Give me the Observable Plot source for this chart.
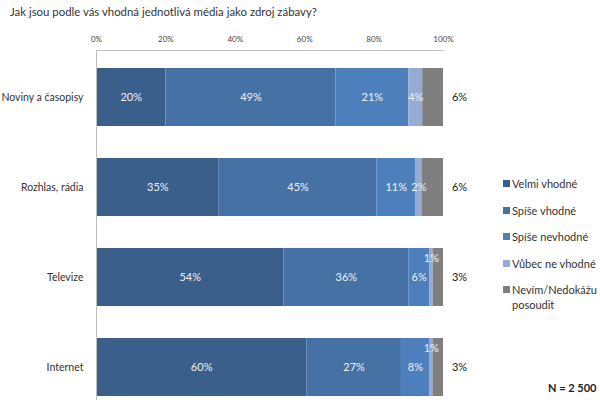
<!DOCTYPE html>
<html>
<head>
<meta charset="utf-8">
<script src="https://cdn.jsdelivr.net/npm/d3@7"></script>
<script src="https://cdn.jsdelivr.net/npm/@observablehq/plot@0.6"></script>
<style>
  body { margin: 0; background: #fff; font-family: Lato, sans-serif; }
  #wrap { position: relative; width: 600px; height: 400px; overflow: hidden; }
  #title { position: absolute; left: 10px; top: 5px; font-size: 11.4px; color: #333; white-space: nowrap; }
  #legend { position: absolute; left: 503px; top: 176px; font-size: 11px; color: #333; }
  .item { position: absolute; left: 0; white-space: nowrap; line-height: 15px; }
  .sw { position: absolute; left: 0; top: 4px; width: 7px; height: 7px; }
  .lab { position: absolute; left: 9px; top: 0; }
  #n { position: absolute; left: 548px; top: 381px; font-size: 11px; font-weight: bold; color: #222; white-space: nowrap; }
  #chart { position: absolute; left: 0; top: 0; }
</style>
</head>
<body>
<div id="wrap">
  <div id="chart"></div>
  <div id="title">Jak jsou podle vás vhodná jednotlivá média jako zdroj zábavy?</div>
  <div id="legend"></div>
  <div id="n">N = 2 500</div>
</div>
<script>
const categories = ["Noviny a časopisy", "Rozhlas, rádia", "Televize", "Internet"];
const series = ["Velmi vhodné", "Spíše vhodné", "Spíše nevhodné", "Vůbec ne vhodné", "Nevím/Nedokážu posoudit"];
const velmiVhodne = [20, 35, 54, 60];
const spiseVhodne = [49, 45, 36, 27];
const spiseNevhodne = [21, 11, 6, 8];
const vubecNeVhodne = [4, 2, 1, 1];
const nevim = [6, 6, 3, 3];
const colors = ["#3a5f8b", "#4671a5", "#4d7fbc", "#95abd3", "#7f7f7f"];
const xTicks = [0, 0.2, 0.4, 0.6, 0.8, 1];

const seriesValues = [velmiVhodne, spiseVhodne, spiseNevhodne, vubecNeVhodne, nevim];
const rows = [];
categories.forEach((c, i) => {
  series.forEach((s, j) => rows.push({media: c, answer: s, value: seriesValues[j][i]}));
});
const gray = series[4];
const grayRows = categories.map((c, i) => ({media: c, value: nevim[i]}));

const stackOpts = {x: "value", y: "media", z: "answer", order: series, offset: "normalize"};

const chart = Plot.plot({
  width: 600,
  height: 400,
  marginTop: 50,
  marginLeft: 96,
  marginRight: 157,
  marginBottom: 0,
  style: {fontFamily: "Lato, sans-serif", fontSize: "11px", background: "transparent"},
  x: {domain: [0, 1], axis: null},
  y: {domain: categories, range: [50.5, 412.5], paddingInner: 0.36, paddingOuter: 0.18, axis: null},
  color: {domain: series, range: colors},
  marks: [
    Plot.barX(rows, Plot.stackX({...stackOpts, fill: "answer"})),
    Plot.text(rows, Plot.stackX({...stackOpts,
      text: d => (d.answer !== gray && d.value !== 1) ? d.value + "%" : "",
      fill: "#eef2f8", fontSize: 11})),
    Plot.text(rows, Plot.stackX({...stackOpts,
      text: d => (d.answer !== gray && d.value === 1) ? d.value + "%" : "",
      fill: "#eef2f8", fontSize: 11, dy: -19})),
    Plot.text(grayRows, {x: () => 1, y: "media", text: d => d.value + "%", dx: 16, fill: "#222", fontSize: 11}),
    Plot.frame({anchor: "top", stroke: "#bfbfbf"}),
    Plot.ruleX([0], {stroke: "#bfbfbf"}),
    Plot.axisX({anchor: "top", ticks: xTicks, tickFormat: d3.format(".0%"), tickSize: 0, tickPadding: 9, fontSize: 8, fill: "#444", label: null}),
    Plot.axisY({anchor: "left", tickSize: 0, tickPadding: 13, fontSize: 10.5, fill: "#333", label: null})
  ]
});
document.getElementById("chart").appendChild(chart);

const legend = document.getElementById("legend");
const legendTops = [0, 27, 53, 80, 106];
series.forEach((s, j) => {
  const item = document.createElement("div");
  item.className = "item";
  item.style.top = legendTops[j] + "px";
  const sw = document.createElement("div");
  sw.className = "sw";
  sw.style.background = colors[j];
  const lab = document.createElement("div");
  lab.className = "lab";
  lab.innerHTML = s === gray ? "Nevím/Nedokážu<br>posoudit" : s;
  item.appendChild(sw);
  item.appendChild(lab);
  legend.appendChild(item);
});
</script>
</body>
</html>
